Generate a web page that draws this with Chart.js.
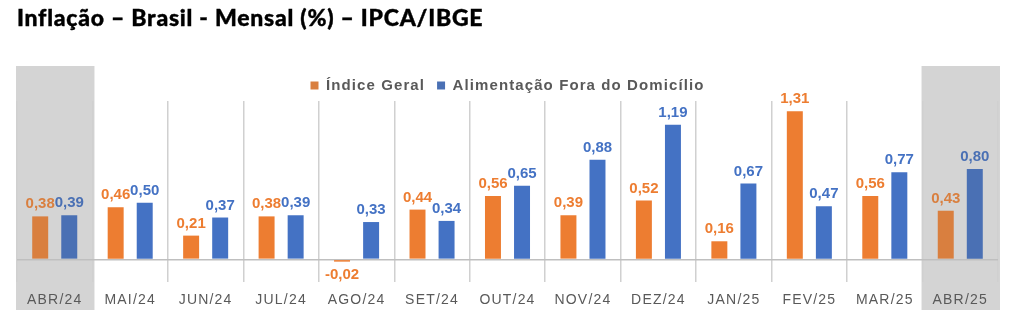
<!DOCTYPE html>
<html>
<head>
<meta charset="utf-8">
<script src="https://cdn.jsdelivr.net/npm/chart.js@4.4.1/dist/chart.umd.min.js"></script>
<style>
  html, body { margin: 0; padding: 0; background: #ffffff; }
  #wrap { position: relative; width: 1024px; height: 328px; overflow: hidden; }
  #title { position: absolute; left: 17px; top: 3px; font-family: Lato, "Open Sans", sans-serif; font-weight: 900; font-size: 23px; letter-spacing: 0.75px; color: #000; white-space: nowrap; -webkit-text-stroke: 0.4px #000; }
  #c { position: absolute; left: 0; top: 0; }
</style>
</head>
<body>
<div id="wrap">
  <canvas id="c" width="1024" height="328"></canvas>
  <div id="title">Inflação – Brasil - Mensal (%) – IPCA/IBGE</div>
</div>
<script>
const categories = ['ABR/24','MAI/24','JUN/24','JUL/24','AGO/24','SET/24','OUT/24','NOV/24','DEZ/24','JAN/25','FEV/25','MAR/25','ABR/25'];
const indiceGeral = [0.38, 0.46, 0.21, 0.38, -0.02, 0.44, 0.56, 0.39, 0.52, 0.16, 1.31, 0.56, 0.43];
const alimentacaoFora = [0.39, 0.50, 0.37, 0.39, 0.33, 0.34, 0.65, 0.88, 1.19, 0.67, 0.47, 0.77, 0.80];
const seriesNames = ['Índice Geral', 'Alimentação Fora do Domicílio'];
const highlighted = [0, 12];

const ORANGE = '#ED7D31', BLUE = '#4472C4';
const ORANGE_HL = '#D97F3F', BLUE_HL = '#4A70B4';
const FONT = "'Liberation Sans', Arial, sans-serif";
const LEGEND_SPACING = '1.1px', TICK_SPACING = '1.2px';

const highlightPlugin = {
  id: 'highlight',
  afterInit(chart) {
    const lg = chart.legend;
    if (lg && !lg._patched) {
      const orig = lg.fit;
      lg.fit = function () { orig.call(this); this.height = Math.max(0, this.height - 2); };
      lg._patched = true;
    }
  },
  beforeLayout(chart) {
    chart.ctx.letterSpacing = LEGEND_SPACING;
  },
  afterLayout(chart) {
    chart.ctx.letterSpacing = '0px';
  },
  beforeDraw(chart) {
    const ctx = chart.ctx, xs = chart.scales.x, ca = chart.chartArea;
    const w = (xs.right - xs.left) / categories.length;
    ctx.save();
    ctx.fillStyle = '#D4D4D4';
    highlighted.forEach(i => {
      const cx = xs.getPixelForValue(i);
      ctx.fillRect(cx - w / 2 - 1, ca.top - 35, w + 3, ca.bottom - ca.top + 63);
    });
    ctx.restore();
    ctx.letterSpacing = LEGEND_SPACING;
  },
  beforeDatasetsDraw(chart) {
    chart.ctx.letterSpacing = '0px';
  },
  afterDatasetsDraw(chart) {
    const ctx = chart.ctx;
    ctx.save();
    ctx.letterSpacing = '0px';
    ctx.font = 'bold 15px ' + FONT;
    ctx.textAlign = 'center';
    chart.data.datasets.forEach((ds, di) => {
      const meta = chart.getDatasetMeta(di);
      meta.data.forEach((el, i) => {
        const v = ds.data[i];
        const txt = v.toFixed(2).replace('.', ',');
        const hl = highlighted.includes(i);
        ctx.fillStyle = di === 0 ? (hl ? ORANGE_HL : ORANGE) : (hl ? BLUE_HL : BLUE);
        if (v >= 0) {
          ctx.textBaseline = 'alphabetic';
          ctx.fillText(txt, el.x, el.y - 8);
        } else {
          ctx.textBaseline = 'top';
          ctx.fillText(txt, el.x, el.y + 6);
        }
      });
    });
    ctx.restore();
    ctx.letterSpacing = TICK_SPACING;
  },
  afterDraw(chart) {
    chart.ctx.letterSpacing = '0px';
  }
};

new Chart(document.getElementById('c'), {
  type: 'bar',
  data: {
    labels: categories,
    datasets: [
      { label: seriesNames[0], data: indiceGeral,
        backgroundColor: c => highlighted.includes(c.dataIndex) ? ORANGE_HL : ORANGE },
      { label: seriesNames[1], data: alimentacaoFora,
        backgroundColor: c => highlighted.includes(c.dataIndex) ? BLUE_HL : BLUE }
    ]
  },
  options: {
    responsive: false,
    animation: false,
    devicePixelRatio: 1,
    layout: { padding: { left: 17, right: 26, top: 66, bottom: 0 } },
    datasets: { bar: { categoryPercentage: 0.77, barPercentage: 0.55 } },
    plugins: {
      legend: {
        display: true,
        position: 'top',
        labels: {
          color: '#595959',
          font: { family: FONT, size: 15, weight: 'bold' },
          boxWidth: 8, boxHeight: 8, padding: 12
        }
      },
      tooltip: { enabled: false },
      title: { display: false }
    },
    scales: {
      x: {
        grid: { offset: true, color: '#D0D0D0', lineWidth: 1.5, drawTicks: false },
        border: { display: false },
        ticks: { color: '#595959', font: { family: FONT, size: 14 }, padding: 10, maxRotation: 0, autoSkip: false, z: 1 },
        afterFit: s => { s.height = 46; }
      },
      y: {
        min: -0.2, max: 1.4,
        ticks: { display: false },
        grid: { drawTicks: false, color: c => (c.tick && c.tick.value === 0) ? '#BFBFBF' : 'rgba(0,0,0,0)', lineWidth: 1.5 },
        border: { display: false },
        afterFit: s => { s.width = 0; }
      }
    }
  },
  plugins: [highlightPlugin]
});
</script>
</body>
</html>
